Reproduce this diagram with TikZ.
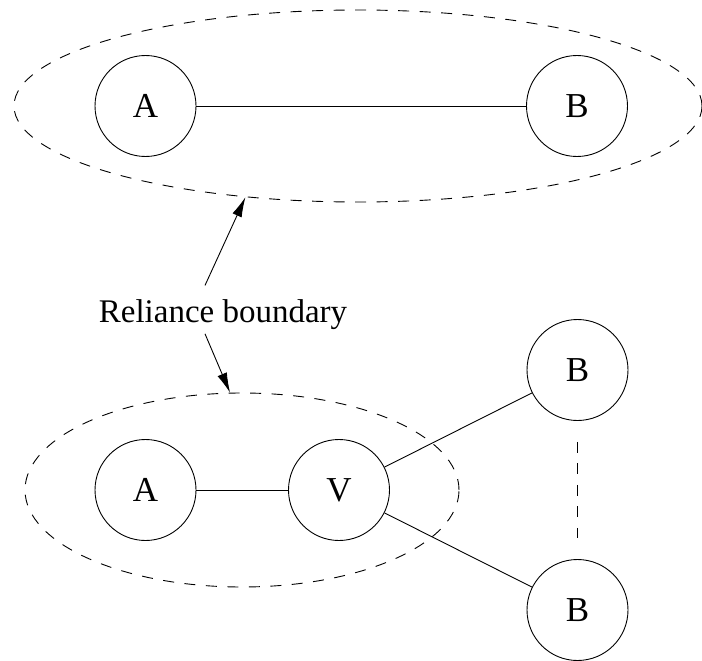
\documentclass[tikz,border=0pt]{standalone}
\usepackage{fontspec}
\setmainfont{Liberation Serif}
\usetikzlibrary{shapes.geometric,arrows.meta,calc}

\tikzset{
  party/.style={draw, circle, line width=0.9pt, minimum size=101pt, inner sep=0pt,
                font=\fontsize{35}{42}\selectfont},
  zone/.style={draw, ellipse, line width=0.9pt, dash pattern=on 11pt off 10.5pt,
               inner sep=0pt},
  link/.style={line width=0.9pt},
  pointer/.style={line width=0.9pt, -{Latex[length=20pt,width=10pt]}}
}

\begin{document}
\begin{tikzpicture}[x=1pt, y=-1pt]
  \useasboundingbox (0,0) rectangle (702,661);

  % upper arrangement: A talks to B directly
  \node[zone, minimum width=688pt, minimum height=192pt] (zoneTop) at (358,106) {};
  \node[party] (topA) at (145.5,106) {A};
  \node[party] (topB) at (577,106) {B};
  \draw[link] (topA) -- (topB);

  % lower arrangement: A talks to many B through V
  \node[zone, minimum width=434pt, minimum height=194pt] (zoneBot) at (242,490) {};
  \node[party] (botA) at (145.5,490) {A};
  \node[party] (V) at (339,490) {V};
  \node[party] (B1) at (577.5,370) {B};
  \node[party] (B2) at (577.5,610) {B};
  \draw[link] (botA) -- (V);
  \draw[link] (V) -- (B1);
  \draw[link] (V) -- (B2);
  \draw[link, dash pattern=on 11pt off 10.5pt]
    ($(B1.south)+(0,21)$) -- ($(B2.north)+(0,-21)$);

  % label with pointers to both boundaries
  \node[anchor=base, inner sep=0pt, font=\fontsize{33}{40}\selectfont] (lbl)
    at (223,322.5) {Reliance boundary};
  \draw[pointer] ($(lbl.north)+(-18,-14)$) -- (zoneTop.219);
  \draw[pointer] ($(lbl.south)+(-18,4)$) -- (zoneBot.97);
\end{tikzpicture}
\end{document}
